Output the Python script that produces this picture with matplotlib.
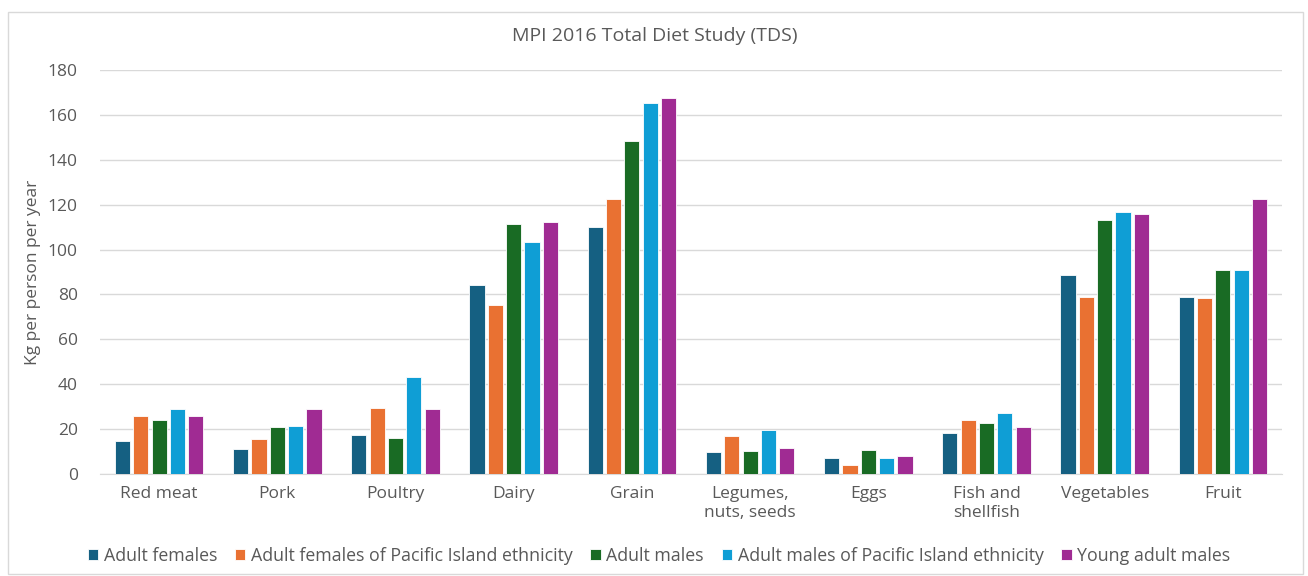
import numpy as np
import matplotlib.pyplot as plt
from matplotlib.patches import Rectangle

plt.rcParams['font.family'] = ['Open Sans', 'DejaVu Sans']

# Food groups and series (kg per person per year)
categories = ["Red meat", "Pork", "Poultry", "Dairy", "Grain",
              "Legumes,\nnuts, seeds", "Eggs", "Fish and\nshellfish", "Vegetables", "Fruit"]
series_names = ["Adult females", "Adult females of Pacific Island ethnicity", "Adult males",
                "Adult males of Pacific Island ethnicity", "Young adult males"]
adult_females = [14.7, 11.0, 17.4, 84.2, 110.0, 9.8, 7.1, 18.3, 88.7, 78.9]
adult_females_pi = [25.8, 15.5, 29.4, 75.3, 122.5, 17.0, 4.0, 24.0, 78.9, 78.4]
adult_males = [24.0, 21.0, 16.0, 111.4, 148.4, 10.2, 10.7, 22.7, 113.2, 91.0]
adult_males_pi = [29.0, 21.5, 43.0, 103.4, 165.3, 19.6, 7.1, 27.2, 116.8, 91.0]
young_adult_males = [25.8, 29.0, 29.0, 112.3, 167.5, 11.6, 8.0, 21.0, 115.9, 122.5]
colors = ["#156082", "#E97132", "#196B24", "#0F9ED5", "#A02B93"]

data = [adult_females, adult_females_pi, adult_males, adult_males_pi, young_adult_males]

fig = plt.figure(figsize=(13.08, 5.76), dpi=100)
ax = fig.add_axes([100 / 1308, 102 / 576, 1182 / 1308, 404 / 576])

# light border around the whole chart
fig.patches.append(Rectangle((0.006, 0.004), 0.99, 0.975, transform=fig.transFigure,
                             fill=False, edgecolor="#D9D9D9", linewidth=1))

x = np.arange(len(categories))
step = 0.155
width = 0.128
for i, (vals, name, c) in enumerate(zip(data, series_names, colors)):
    ax.bar(x + (i - 2) * step, vals, width, color=c, label=name,
           edgecolor="white", linewidth=0.6, zorder=3)

ax.set_xlim(-0.5, len(categories) - 0.5)
ax.set_ylim(0, 180)
ax.set_yticks(range(0, 181, 20))
ax.set_xticks(x)
ax.set_xticklabels(categories)
ax.tick_params(axis="both", length=0, labelsize=12.5, colors="#595959")
ax.tick_params(axis="x", pad=9)
ax.tick_params(axis="y", pad=16)
ax.grid(axis="y", color="#D9D9D9", linewidth=1, zorder=0)
for s in ["top", "right", "left"]:
    ax.spines[s].set_visible(False)
ax.spines["bottom"].set_color("#D9D9D9")

ax.set_ylabel("Kg per person per year", fontsize=12.5, color="#595959", labelpad=5)
fig.text(655 / 1308, 1 - 36 / 576, "MPI 2016 Total Diet Study (TDS)", ha="center", va="center",
         fontsize=14, color="#595959")

fig.legend(loc="center", bbox_to_anchor=(659 / 1308, 1 - 556 / 576), ncol=5, frameon=False,
           fontsize=12.8, handlelength=0.6, handleheight=0.6, handletextpad=0.3,
           columnspacing=1.0, labelcolor="#595959")

fig.savefig("out.png", dpi=100)
